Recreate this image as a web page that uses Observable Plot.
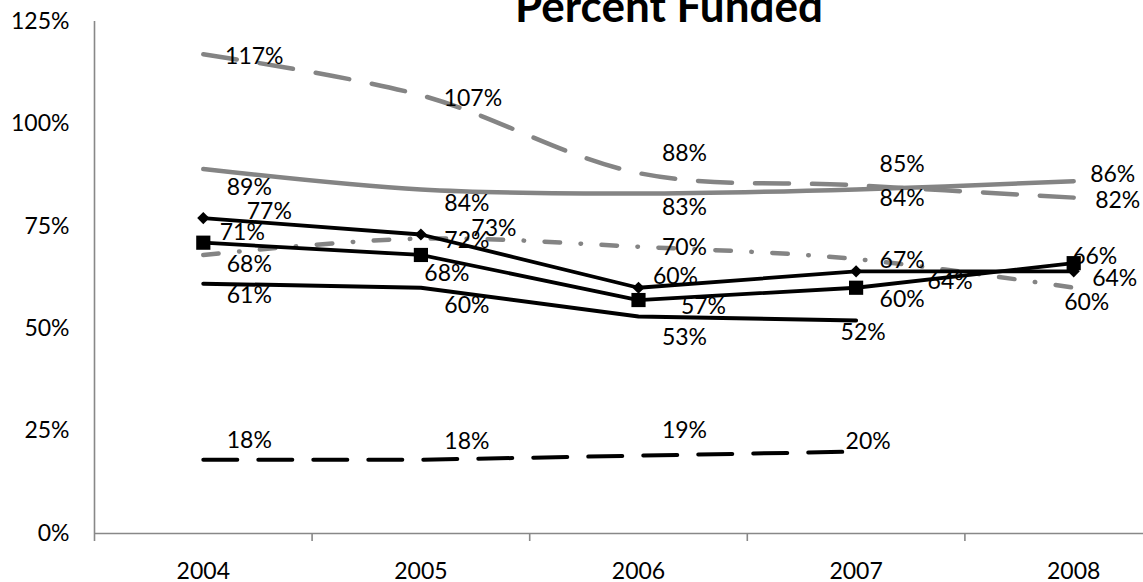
<!DOCTYPE html>
<html>
<head>
<meta charset="utf-8">
<script src="https://cdn.jsdelivr.net/npm/d3@7"></script>
<script src="https://cdn.jsdelivr.net/npm/@observablehq/plot@0.6"></script>
<style>
  html, body { margin: 0; padding: 0; background: #fff; }
  #chart svg { display: block; }
</style>
</head>
<body>
<div id="chart"></div>
<script>
// ---- data ----
const title = "Percent Funded";
const years = [2004, 2005, 2006, 2007, 2008];
const yTicks = [0, 25, 50, 75, 100, 125];

const grayDashed   = [117, 107, 88, 85, 82];
const graySolid    = [89, 84, 83, 84, 86];
const grayDashDot  = [68, 72, 70, 67, 60];
const blackDiamond = [77, 73, 60, 64, 64];
const blackSquare  = [71, 68, 57, 60, 66];
const blackSolid   = [61, 60, 53, 52, null];
const blackDashed  = [18, 18, 19, 20, null];

// ---- label placement (pixel offsets from each point; layout only) ----
const offGrayDashed   = [[51, 2], [52, 3], [46, -19], [46, -21], [44, 3]];
const offGraySolid    = [[46, 19], [46, 14], [46, 14], [46, 9], [39, -7]];
const offGrayDashDot  = [[46, 10], [46, 2], [46, 1], [46, 2], [13, 15]];
const offBlackDiamond = [[66, -6], [73, -6], [37, -11], [94, 10], [41, 7]];
const offBlackSquare  = [[39, -10], [26, 19], [65, 7], [46, 12], [21, -7]];
const offBlackSolid   = [[46, 12], [46, 18], [46, 21], [7, 12]];
const offBlackDashed  = [[46, -19], [46, -18], [46, -25], [12, -10]];

// ---- styles ----
const gray = "#848484";
const axisGray = "#888888";
const FONT = "Lato, 'Open Sans', sans-serif";

const series = [
  {values: grayDashed,   offsets: offGrayDashed,   stroke: gray,    width: 4.5, dash: "34,23", curve: "catmull-rom", front: false},
  {values: graySolid,    offsets: offGraySolid,    stroke: gray,    width: 4.5, dash: null,    curve: "catmull-rom", front: false},
  {values: grayDashDot,  offsets: offGrayDashDot,  stroke: gray,    width: 4.5, dash: "15.5,20.5,0.5,20.5", curve: "catmull-rom", front: false},
  {values: blackSolid,   offsets: offBlackSolid,   stroke: "black", width: 4,   dash: null,    curve: "linear", front: true},
  {values: blackDashed,  offsets: offBlackDashed,  stroke: "black", width: 4,   dash: "34,21", curve: "linear", front: true},
  {values: blackSquare,  offsets: offBlackSquare,  stroke: "black", width: 3.8, dash: null,    curve: "linear", front: true, symbol: "square", r: 8},
  {values: blackDiamond, offsets: offBlackDiamond, stroke: "black", width: 3.8, dash: null,    curve: "linear", front: true, symbol: "diamond2", r: 5.5}
];

const toRows = (s) => years
  .map((year, i) => ({year, value: s.values[i], off: s.offsets[i]}))
  .filter(d => d.value != null);

const lineMark = (s) => Plot.line(toRows(s), {
  x: "year", y: "value",
  stroke: s.stroke, strokeWidth: s.width,
  strokeDasharray: s.dash || undefined,
  strokeLinecap: "round", strokeLinejoin: "round",
  curve: s.curve
});

const labelMarks = series.flatMap(s => toRows(s).map(d =>
  Plot.text([d], {
    x: "year", y: "value",
    text: r => `${r.value}%`,
    dx: d.off[0], dy: d.off[1],
    fontSize: 23, fill: "black", lineAnchor: "middle", textAnchor: "middle"
  })
));

const boundaries = years.map(y => y - 0.5);
const xDomain = [boundaries[0], years[years.length - 1] + 0.5];

const marks = [
  // axis lines
  Plot.ruleY([0], {stroke: axisGray, strokeWidth: 1.6}),
  Plot.ruleX([boundaries[0]], {y1: 0, y2: yTicks[yTicks.length - 1], stroke: axisGray, strokeWidth: 1.6}),
  Plot.axisX({ticks: boundaries, tickSize: 8, tickFormat: () => "", stroke: axisGray, strokeWidth: 1.6, label: null}),
  Plot.axisX({ticks: years, tickSize: 0, tickPadding: 29, tickFormat: d => String(d), fontSize: 23, fill: "black", label: null}),
  Plot.axisY({ticks: yTicks, tickSize: 0, tickPadding: 25, tickFormat: d => `${d}%`, fontSize: 23, fill: "black", label: null}),
  // background (gray) series
  ...series.filter(s => !s.front).map(lineMark),
  // data labels
  ...labelMarks,
  // foreground (black) series
  ...series.filter(s => s.front).map(lineMark),
  ...series.filter(s => s.symbol).map(s => Plot.dot(toRows(s), {
    x: "year", y: "value", symbol: s.symbol, r: s.r, fill: "black", stroke: "none"
  })),
  // title
  Plot.text([title], {frameAnchor: "top", lineAnchor: "bottom", dx: 50, dy: 0, fontSize: 44, fontWeight: "bold", fill: "black"})
];

const chart = Plot.plot({
  width: 1143,
  height: 582,
  marginTop: 21,
  marginBottom: 49,
  marginLeft: 94,
  marginRight: 0,
  style: {fontFamily: FONT, fontSize: "23px", color: "black", background: "white"},
  x: {type: "linear", domain: xDomain, range: [94, 1182]},
  y: {domain: [0, yTicks[yTicks.length - 1]]},
  marks
});
document.getElementById("chart").appendChild(chart);
</script>
</body>
</html>
